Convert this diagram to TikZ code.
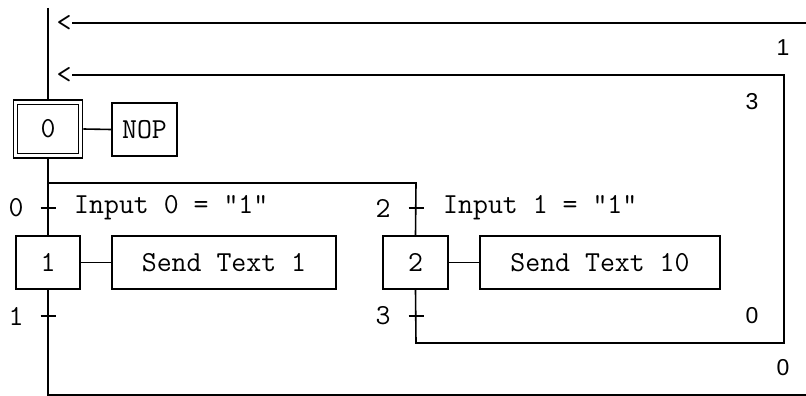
\documentclass[tikz,border=0pt]{standalone}
\usepackage{fontspec}
\newfontfamily\lblfont{Liberation Sans}
\begin{document}
\begin{tikzpicture}[x=1pt,y=-1pt,
  ln/.style={line width=1.6pt,black},
  box/.style={draw,line width=1.6pt,inner sep=0pt,font=\ttfamily\fontsize{29}{29}\selectfont},
  txt/.style={inner sep=0pt,font=\ttfamily\fontsize{29}{29}\selectfont},
  rlbl/.style={inner sep=0pt,font=\lblfont\fontsize{23}{23}\selectfont}]
\useasboundingbox (0,0) rectangle (806,396);
% steps
\node[box,minimum width=69pt,minimum height=58pt] (s0) at (48,129) {};
\node[box,minimum width=61pt,minimum height=49pt] (s0i) at (48,129) {0};
\node[box,minimum width=65pt,minimum height=53pt] (nop) at (144.5,129.5) {NOP};
\node[box,minimum width=64pt,minimum height=53pt] (s1) at (48,262.5) {1};
\node[box,minimum width=224pt,minimum height=53pt] (a1) at (224,262.5) {Send Text 1};
\node[box,minimum width=65pt,minimum height=53pt] (s2) at (415.5,262.5) {2};
\node[box,minimum width=240pt,minimum height=53pt] (a2) at (600,262.5) {Send Text 10};
% coordinates
\coordinate (top) at (48,8);
\coordinate (br) at (48,183);
\coordinate (brr) at (416,183);
\coordinate (b1) at (48,395);
\coordinate (b1r) at (806,395);
\coordinate (b2) at (416,343);
\coordinate (b2r) at (784,343);
\coordinate (r2) at (784,75);
\coordinate (l2) at (72,75);
\coordinate (l1) at (72,23);
\coordinate (r1) at (806,23);
% arrows
\node[txt] (lt1) at (64,23) {<};
\node[txt] (lt2) at (64,75) {<};
% connectors
\draw[ln] (top) -- (s0.north);
\draw[ln] (s0.east) -- (nop.west);
\draw[ln] (s0.south) -- (s1.north);
\draw[ln] (s1.east) -- (a1.west);
\draw[ln] (s2.east) -- (a2.west);
\draw[ln] (br) -- (brr) -- (s2.north);
\draw[ln] (s1.south) -- (b1) -- (b1r);
\draw[ln] (s2.south) -- (b2) -- (b2r) -- (r2) -- (l2);
\draw[ln] (l1) -- (r1);
% transitions
\coordinate (t0) at (48,208);
\coordinate (t1) at (48,316);
\coordinate (t2) at (416,208);
\coordinate (t3) at (416,316);
\foreach \t in {t0,t1,t2,t3}{\draw[ln] ([xshift=-7.5pt]\t) -- ([xshift=7.5pt]\t);}
\node[txt] (n0) at (16,208) {0};
\node[txt] (n1) at (16,316) {1};
\node[txt] (n2) at (383,208) {2};
\node[txt] (n3) at (383,316) {3};
\node[txt,anchor=west] (c0) at (74,208) {Input 0 = "1"};
\node[txt,anchor=west] (c1) at (443,208) {Input 1 = "1"};
% right labels
\node[rlbl] (k1) at (783,48) {1};
\node[rlbl] (k3) at (752,102) {3};
\node[rlbl] (k0a) at (752,316) {0};
\node[rlbl] (k0b) at (783,368) {0};
\end{tikzpicture}
\end{document}
